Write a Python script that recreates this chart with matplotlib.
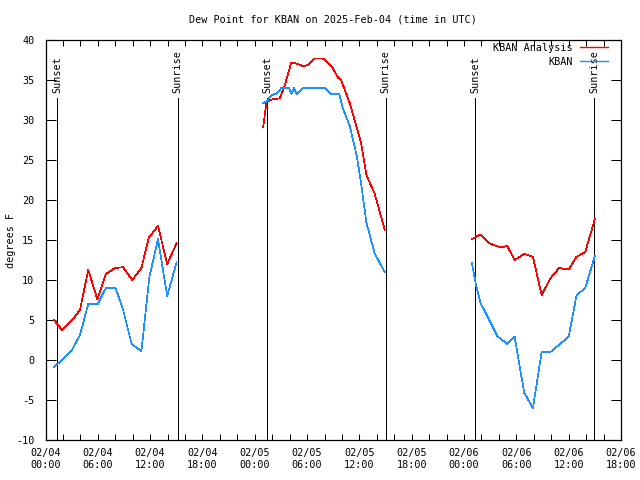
import matplotlib
matplotlib.use("Agg")
import matplotlib.pyplot as plt
from matplotlib.ticker import MultipleLocator, FixedLocator

# ---- data (hours since 2025-02-04 00:00 UTC) ----
ana_t1 = [0.97, 1.89, 3.0, 3.95, 4.9, 5.94, 6.93, 7.96, 8.9, 9.95, 11.0, 11.85, 12.9, 13.96, 15.03]
ana_v1 = [5.0, 3.75, 4.9, 6.25, 11.25, 7.6, 10.75, 11.5, 11.6, 10.0, 11.5, 15.3, 16.75, 12.0, 14.6]
obs_t1 = [0.97, 1.47, 3.0, 3.95, 4.9, 5.98, 6.93, 8.04, 8.9, 9.88, 11.0, 11.9, 12.9, 13.96, 15.03]
obs_v1 = [-0.9, -0.4, 1.2, 3.1, 7.0, 7.0, 9.0, 9.0, 6.25, 2.0, 1.1, 10.3, 15.1, 8.0, 12.2]

ana_t2 = [24.96, 25.35, 26.1, 26.87, 27.4, 28.2, 28.97, 29.6, 30.1, 30.9, 31.8, 32.8, 33.55, 33.9, 34.9, 35.7, 36.2, 36.8, 37.75, 38.9]
ana_v2 = [29.1, 32.3, 32.6, 32.7, 34.2, 37.2, 37.0, 36.7, 36.9, 37.7, 37.7, 36.75, 35.3, 35.0, 32.1, 29.0, 27.1, 23.1, 20.8, 16.3]
obs_t2 = [24.96, 25.35, 25.9, 26.45, 27.06, 27.93, 28.2, 28.5, 28.8, 29.5, 32.0, 32.8, 33.7, 34.1, 34.9, 35.7, 36.2, 36.8, 37.75, 38.9]
obs_v2 = [32.1, 32.3, 33.1, 33.3, 34.0, 34.0, 33.25, 34.0, 33.25, 34.0, 34.0, 33.25, 33.25, 31.5, 29.2, 25.5, 22.0, 17.2, 13.3, 11.0]

ana_t3 = [48.9, 49.9, 50.9, 51.8, 52.3, 52.96, 53.8, 54.9, 55.9, 56.9, 57.9, 58.9, 60.0, 60.9, 61.9, 63.0]
ana_v3 = [15.1, 15.7, 14.6, 14.2, 14.1, 14.25, 12.5, 13.25, 12.9, 8.1, 10.2, 11.5, 11.3, 12.9, 13.5, 17.6]
obs_t3 = [48.9, 49.4, 49.9, 50.9, 51.8, 52.96, 53.8, 54.9, 55.9, 56.9, 57.9, 58.9, 60.0, 60.9, 61.9, 63.0]
obs_v3 = [12.1, 9.2, 7.1, 5.0, 3.0, 2.0, 2.9, -4.1, -6.0, 1.0, 1.0, 1.9, 2.9, 8.1, 9.0, 13.0]

sunset_t = [1.32, 25.4, 49.3]
sunrise_t = [15.18, 39.0, 62.96]

xtick_pos = [0, 6, 12, 18, 24, 30, 36, 42, 48, 54, 60, 66]
xtick_labels = ["02/04\n00:00", "02/04\n06:00", "02/04\n12:00", "02/04\n18:00",
                "02/05\n00:00", "02/05\n06:00", "02/05\n12:00", "02/05\n18:00",
                "02/06\n00:00", "02/06\n06:00", "02/06\n12:00", "02/06\n18:00"]
ytick_pos = [-10, -5, 0, 5, 10, 15, 20, 25, 30, 35, 40]

title = "Dew Point for KBAN on 2025-Feb-04 (time in UTC)"
ylabel = "degrees F"
label_ana = "KBAN Analysis"
label_obs = "KBAN"

RED = "#ff0000"
BLUE = "#1e90ff"
FS = 7.3
plt.rcParams['font.family'] = ['DejaVu Sans Mono']

fig = plt.figure(figsize=(6.4, 4.8), dpi=100)
W, H = 640, 480
x0, x1, yt, yb = 45.5, 621, 40, 440
ax = fig.add_axes([x0 / W, (H - yb) / H, (x1 - x0) / W, (yb - yt) / H])
ax.set_xlim(0, 66)
ax.set_ylim(-10, 40)

lw = 0.5
for i, (t, v) in enumerate([(ana_t1, ana_v1), (ana_t2, ana_v2), (ana_t3, ana_v3)]):
    ax.plot(t, v, color=RED, lw=lw, antialiased=False, label=label_ana if i == 0 else None, zorder=3)
for i, (t, v) in enumerate([(obs_t1, obs_v1), (obs_t2, obs_v2), (obs_t3, obs_v3)]):
    ax.plot(t, v, color=BLUE, lw=lw, antialiased=False, label=label_obs if i == 0 else None, zorder=3)

for t in sunset_t:
    ax.plot([t, t], [-10, 32.75], color="black", lw=lw, antialiased=False, zorder=2)
    ax.text(t, 33.4, "Sunset", rotation=90, ha="center", va="bottom", fontsize=FS)
for t in sunrise_t:
    ax.plot([t, t], [-10, 32.75], color="black", lw=lw, antialiased=False, zorder=2)
    ax.text(t, 33.4, "Sunrise", rotation=90, ha="center", va="bottom", fontsize=FS)

ax.xaxis.set_major_locator(FixedLocator(xtick_pos))
ax.set_xticklabels(xtick_labels)
ax.xaxis.set_minor_locator(MultipleLocator(2))
ax.yaxis.set_major_locator(FixedLocator(ytick_pos))
ax.set_yticklabels([str(v) for v in ytick_pos])

ax.tick_params(axis="x", which="both", direction="in", top=True, bottom=True,
               length=4, width=0.75, labelsize=FS, pad=6)
ax.tick_params(axis="y", which="major", direction="in", left=True, right=True,
               length=7, width=0.75, labelsize=FS, pad=8)
for s in ax.spines.values():
    s.set_linewidth(0.9)
    s.set_color("black")

fig.text(333 / W, 1 - 19 / H, title, ha="center", va="center", fontsize=FS)
fig.text(11 / W, 0.5, ylabel, rotation=90, ha="center", va="center", fontsize=FS)

leg = ax.legend(loc="upper right", bbox_to_anchor=(608 / W, 1 - 43 / H),
                bbox_transform=fig.transFigure, frameon=False, markerfirst=False,
                fontsize=FS, handlelength=2.8, handletextpad=0.7, labelspacing=0.35,
                borderpad=0, borderaxespad=0)
for h in leg.get_lines():
    h.set_linewidth(1.0)

fig.savefig("out.png", dpi=100)
